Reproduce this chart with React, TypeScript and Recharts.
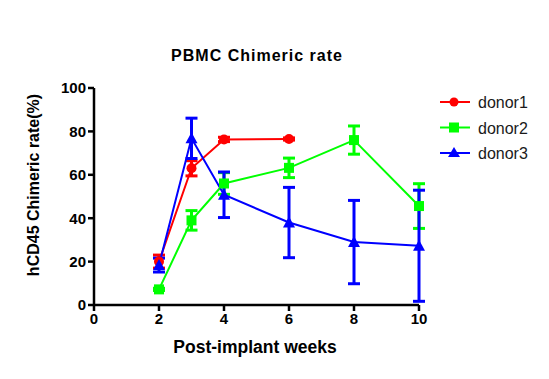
import React from "react";
import { LineChart, Line, XAxis, YAxis, ErrorBar, Customized } from "recharts";

const weeks1 = [2, 3, 4, 6];
const donor1 = [20, 63, 76.3, 76.5];
const donor1Err = [3, 3.5, 1, 0.5];

const weeks2 = [2, 3, 4, 6, 8, 10];
const donor2 = [7.2, 39, 56, 63.2, 76, 45.6];
const donor2Err = [0.5, 4.5, 5, 4.5, 6.5, 10.3];

const weeks3 = [2, 3, 4, 6, 8, 10];
const donor3 = [18.4, 76.8, 50.8, 38, 29, 27.3];
const donor3Err = [3.2, 9.3, 10.5, 16.2, 19.2, 25.6];

const xTicks = [0, 2, 4, 6, 8, 10];
const yTicks = [0, 20, 40, 60, 80, 100];

const chartTitle = "PBMC Chimeric rate";
const xTitle = "Post-implant weeks";
const yTitle = "hCD45 Chimeric rate(%)";

const build = (xs: number[], ys: number[], es: number[]) =>
  xs.map((x, i) => ({ x, y: ys[i], err: es[i] }));

const series = [
  { name: "donor1", color: "#FF0000", shape: "circle", data: build(weeks1, donor1, donor1Err) },
  { name: "donor2", color: "#00FF00", shape: "square", data: build(weeks2, donor2, donor2Err) },
  { name: "donor3", color: "#0000FF", shape: "triangle", data: build(weeks3, donor3, donor3Err) },
];

const makeDot = (shape: string, color: string) => (props: any) => {
  const { cx, cy, index } = props;
  if (cx == null || cy == null) return <g key={index} />;
  if (shape === "circle") return <circle key={index} cx={cx} cy={cy} r={5} fill={color} />;
  if (shape === "square")
    return <rect key={index} x={cx - 5} y={cy - 5} width={10} height={10} fill={color} />;
  return (
    <polygon
      key={index}
      points={`${cx},${cy - 6} ${cx - 6},${cy + 5} ${cx + 6},${cy + 5}`}
      fill={color}
    />
  );
};

const font = "Arial, 'Liberation Sans', sans-serif";

const Overlay = () => (
  <g>
    {series.map((s, i) => {
      const y = 102 + i * 25.5;
      const cx = 454;
      return (
        <g key={s.name}>
          <line x1={440} x2={470} y1={y} y2={y} stroke={s.color} strokeWidth={2} />
          {s.shape === "circle" && <circle cx={cx} cy={y} r={4.5} fill={s.color} />}
          {s.shape === "square" && <rect x={cx - 5} y={y - 5} width={10} height={10} fill={s.color} />}
          {s.shape === "triangle" && (
            <polygon points={`${cx},${y - 6} ${cx - 6},${y + 4} ${cx + 6},${y + 4}`} fill={s.color} />
          )}
          <text x={478} y={y + 6} fontSize={16} fontFamily={font} fill="#1a1a1a">
            {s.name}
          </text>
        </g>
      );
    })}
    <text x={257} y={61} textAnchor="middle" fontSize={16} letterSpacing={1} fontWeight="bold" fontFamily={font} fill="#000">
      {chartTitle}
    </text>
    <text x={255} y={353} textAnchor="middle" fontSize={17.5} fontWeight="bold" fontFamily={font} fill="#000">
      {xTitle}
    </text>
    <text
      x={0}
      y={0}
      transform="translate(38.5,185) rotate(-90)"
      textAnchor="middle"
      fontSize={16}
      fontWeight="bold"
      fontFamily={font}
      fill="#000"
    >
      {yTitle}
    </text>
  </g>
);

export default function App() {
  return (
    <div style={{ position: "absolute", left: 0, top: 0, background: "#fff" }}>
      <LineChart
        width={549}
        height={379}
        margin={{ top: 88, right: 130, bottom: 0, left: 0 }}
      >
        <XAxis
          dataKey="x"
          type="number"
          domain={[0, 10]}
          ticks={xTicks}
          allowDuplicatedCategory={false}
          height={74}
          stroke="#000"
          strokeWidth={2.5}
          tickSize={6}
          tick={{ fill: "#000", fontSize: 15, fontWeight: "bold", fontFamily: font }}
        />
        <YAxis
          type="number"
          domain={[0, 100]}
          ticks={yTicks}
          width={94}
          stroke="#000"
          strokeWidth={2.5}
          tickSize={6}
          tick={{ fill: "#000", fontSize: 15, fontWeight: "bold", fontFamily: font }}
        />
        {series.map((s) => (
          <Line
            key={s.name}
            data={s.data}
            dataKey="y"
            name={s.name}
            stroke={s.color}
            strokeWidth={2}
            dot={makeDot(s.shape, s.color)}
            activeDot={false}
            isAnimationActive={false}
          >
            <ErrorBar dataKey="err" direction="y" width={6} stroke={s.color} strokeWidth={3} />
          </Line>
        ))}
        <Customized component={Overlay} />
      </LineChart>
    </div>
  );
}
